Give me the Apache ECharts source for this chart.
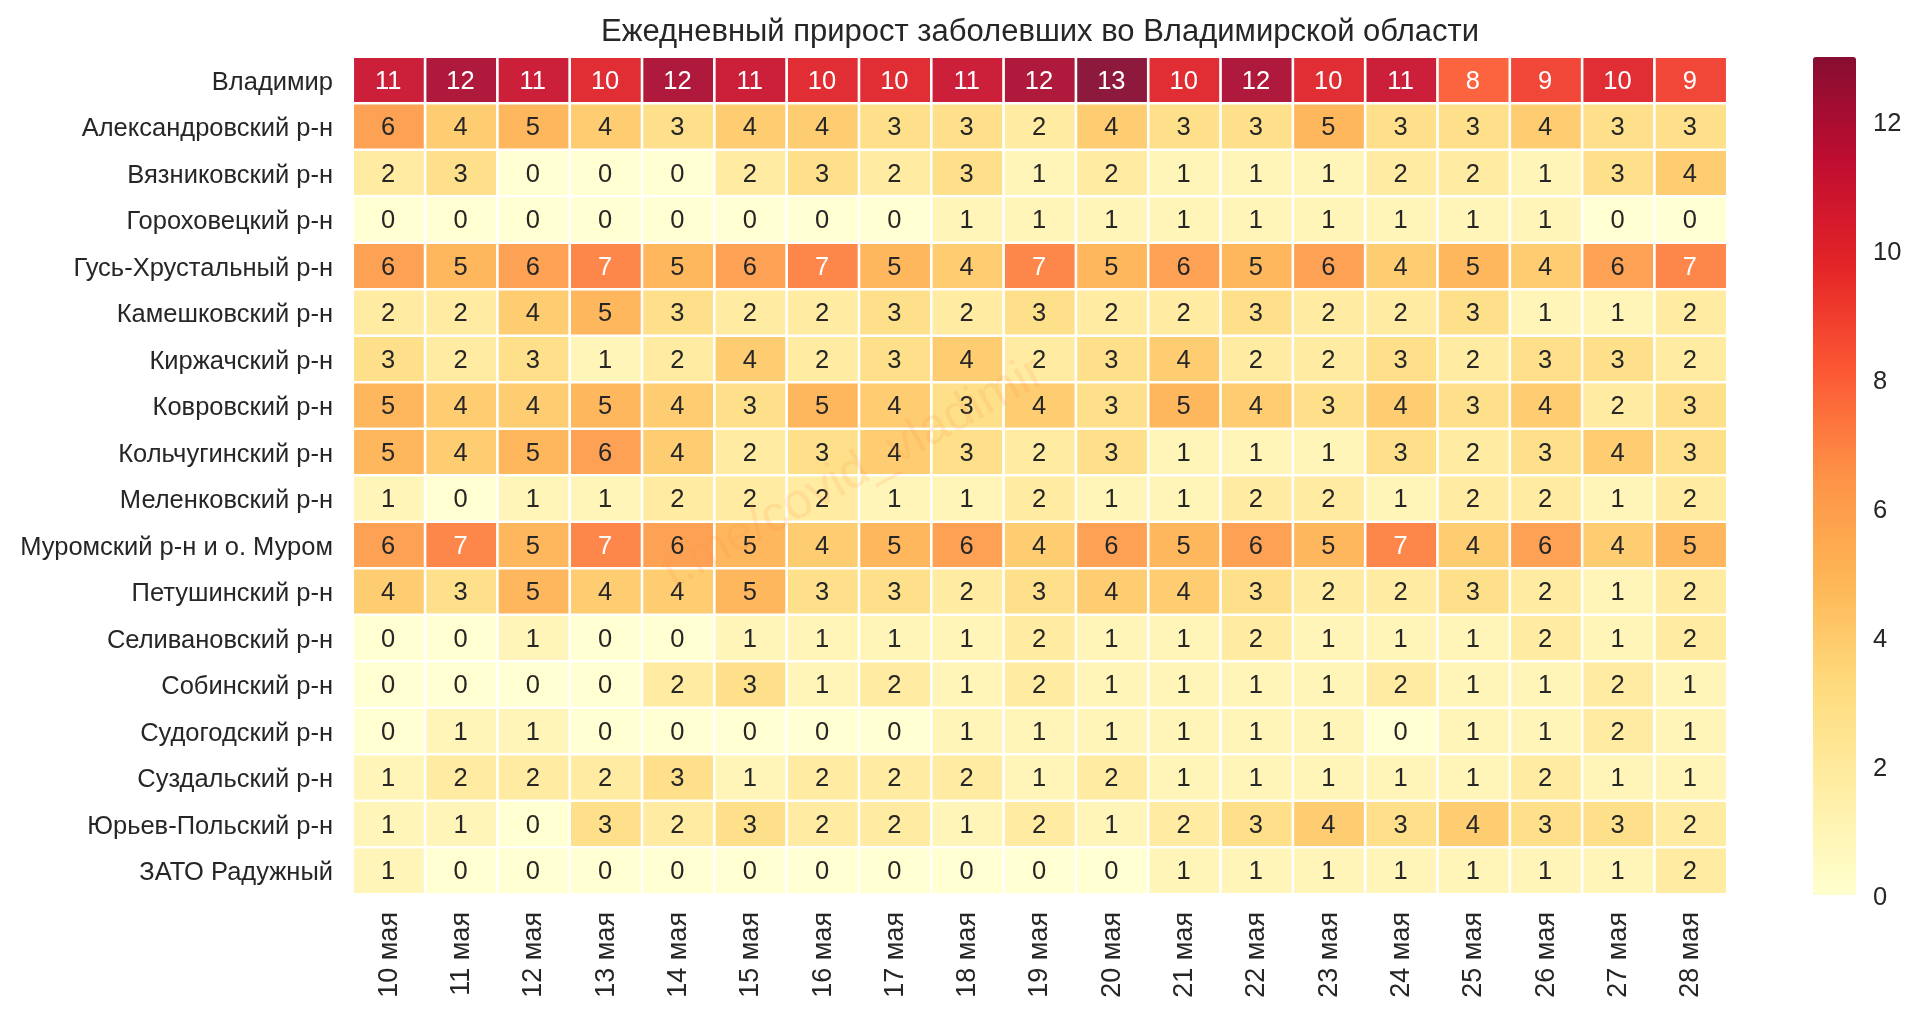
<!DOCTYPE html>
<html>
<head>
<meta charset="utf-8">
<title>Ежедневный прирост</title>
<script src="https://cdn.jsdelivr.net/npm/echarts@6/dist/echarts.min.js"></script>
<style>
  html, body { margin: 0; padding: 0; background: #fff; }
  #chart-box { width: 1920px; height: 1013px; }
</style>
</head>
<body>
<div id="chart-box"></div>
<script>
var days = ['10 мая', '11 мая', '12 мая', '13 мая', '14 мая', '15 мая', '16 мая', '17 мая', '18 мая', '19 мая',
  '20 мая', '21 мая', '22 мая', '23 мая', '24 мая', '25 мая', '26 мая', '27 мая', '28 мая']
var regions = ['Владимир', 'Александровский р-н', 'Вязниковский р-н', 'Гороховецкий р-н', 'Гусь-Хрустальный р-н',
  'Камешковский р-н', 'Киржачский р-н', 'Ковровский р-н', 'Кольчугинский р-н', 'Меленковский р-н',
  'Муромский р-н и о. Муром', 'Петушинский р-н', 'Селивановский р-н', 'Собинский р-н', 'Судогодский р-н',
  'Суздальский р-н', 'Юрьев-Польский р-н', 'ЗАТО Радужный']
var cases = [
  [11, 12, 11, 10, 12, 11, 10, 10, 11, 12, 13, 10, 12, 10, 11, 8, 9, 10, 9],
  [6, 4, 5, 4, 3, 4, 4, 3, 3, 2, 4, 3, 3, 5, 3, 3, 4, 3, 3],
  [2, 3, 0, 0, 0, 2, 3, 2, 3, 1, 2, 1, 1, 1, 2, 2, 1, 3, 4],
  [0, 0, 0, 0, 0, 0, 0, 0, 1, 1, 1, 1, 1, 1, 1, 1, 1, 0, 0],
  [6, 5, 6, 7, 5, 6, 7, 5, 4, 7, 5, 6, 5, 6, 4, 5, 4, 6, 7],
  [2, 2, 4, 5, 3, 2, 2, 3, 2, 3, 2, 2, 3, 2, 2, 3, 1, 1, 2],
  [3, 2, 3, 1, 2, 4, 2, 3, 4, 2, 3, 4, 2, 2, 3, 2, 3, 3, 2],
  [5, 4, 4, 5, 4, 3, 5, 4, 3, 4, 3, 5, 4, 3, 4, 3, 4, 2, 3],
  [5, 4, 5, 6, 4, 2, 3, 4, 3, 2, 3, 1, 1, 1, 3, 2, 3, 4, 3],
  [1, 0, 1, 1, 2, 2, 2, 1, 1, 2, 1, 1, 2, 2, 1, 2, 2, 1, 2],
  [6, 7, 5, 7, 6, 5, 4, 5, 6, 4, 6, 5, 6, 5, 7, 4, 6, 4, 5],
  [4, 3, 5, 4, 4, 5, 3, 3, 2, 3, 4, 4, 3, 2, 2, 3, 2, 1, 2],
  [0, 0, 1, 0, 0, 1, 1, 1, 1, 2, 1, 1, 2, 1, 1, 1, 2, 1, 2],
  [0, 0, 0, 0, 2, 3, 1, 2, 1, 2, 1, 1, 1, 1, 2, 1, 1, 2, 1],
  [0, 1, 1, 0, 0, 0, 0, 0, 1, 1, 1, 1, 1, 1, 0, 1, 1, 2, 1],
  [1, 2, 2, 2, 3, 1, 2, 2, 2, 1, 2, 1, 1, 1, 1, 1, 2, 1, 1],
  [1, 1, 0, 3, 2, 3, 2, 2, 1, 2, 1, 2, 3, 4, 3, 4, 3, 3, 2],
  [1, 0, 0, 0, 0, 0, 0, 0, 0, 0, 0, 1, 1, 1, 1, 1, 1, 1, 2]
]
var palette = ['#ffffd1', '#ffefaa', '#fedd84', '#feba5e', '#fd9850', '#fc603f', '#e63133', '#c41a3c', '#8d1a3c']
// the colorbar in the source comes out a bit denser than the cells
var barPalette = ['#ffffce', '#ffeea5', '#fedb7d', '#feb655', '#fd9246', '#fc5834', '#e42527', '#c00d31', '#860d31']
var textDark = '#262626'
var font = '"Liberation Sans", Arial, sans-serif'

var cells = []
cases.forEach(function (row, y) {
  row.forEach(function (v, x) {
    cells.push({ value: [x, y, v], label: { color: v >= 7 ? '#fff' : textDark } })
  })
})

var myChart = echarts.init(document.getElementById('chart-box'))
myChart.setOption({
  animation: false,
  textStyle: { fontFamily: font },
  title: {
    text: 'Ежедневный прирост заболевших во Владимирской области',
    left: 1035,
    top: 12,
    textAlign: 'center',
    textStyle: { fontFamily: font, fontSize: 31, fontWeight: 'normal', color: textDark }
  },
  grid: [
    { left: 353, top: 57, width: 1374, height: 837 },
    { left: 1813, top: 57, width: 43, height: 838 }
  ],
  xAxis: [
    {
      type: 'category',
      data: days,
      gridIndex: 0,
      axisLine: { show: false },
      axisTick: { show: false },
      splitLine: { show: false },
      axisLabel: { interval: 0, rotate: 90, margin: 18, fontSize: 27, color: textDark, fontFamily: font }
    },
    { type: 'value', gridIndex: 1, show: false }
  ],
  yAxis: [
    {
      type: 'category',
      data: regions,
      inverse: true,
      gridIndex: 0,
      axisLine: { show: false },
      axisTick: { show: false },
      splitLine: { show: false },
      // top-aligned with a thin line box, nudges the text a little below the row centre
      axisLabel: { interval: 0, margin: 20, fontSize: 25.5, verticalAlign: 'top', lineHeight: 5, color: textDark, fontFamily: font }
    },
    {
      type: 'value',
      gridIndex: 1,
      position: 'right',
      min: 0,
      max: 13,
      interval: 2,
      axisLine: { show: false },
      axisTick: { show: false },
      splitLine: { show: false },
      axisLabel: { margin: 17, fontSize: 25.5, verticalAlign: 'top', lineHeight: 5, showMaxLabel: false, color: textDark, fontFamily: font }
    }
  ],
  visualMap: {
    type: 'continuous',
    min: 0,
    max: 13,
    seriesIndex: 0,
    calculable: false,
    left: 1813,
    top: 57,
    padding: 0,
    itemWidth: 43,
    itemHeight: 838,
    inRange: { color: palette },
    controller: { inRange: { color: barPalette } }
  },
  graphic: [{
    type: 'text',
    x: 854,
    y: 473,
    rotation: Math.PI * 29 / 180,
    silent: true,
    z: 100,
    style: {
      text: 't.me/covid_vladimir',
      font: '50px ' + font,
      fill: 'rgba(253, 141, 60, 0.15)',
      align: 'center',
      verticalAlign: 'middle'
    }
  }],
  series: [{
    type: 'heatmap',
    xAxisIndex: 0,
    yAxisIndex: 0,
    data: cells,
    itemStyle: { borderColor: '#fff', borderWidth: 2.6 },
    label: { show: true, fontSize: 25.5, offset: [-1, 1.5], fontFamily: font },
    emphasis: { disabled: true }
  }]
})
</script>
</body>
</html>
